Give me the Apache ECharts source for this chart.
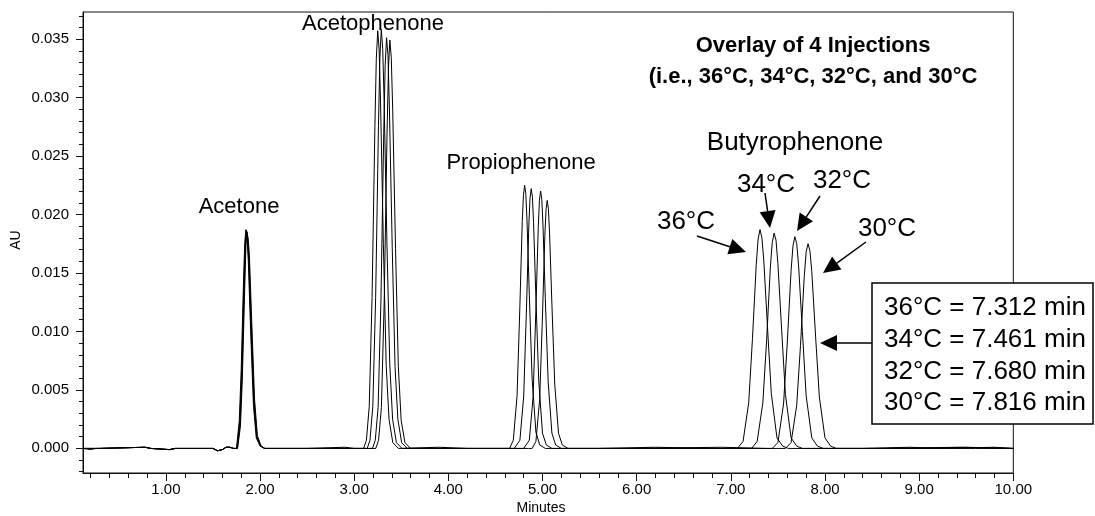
<!DOCTYPE html>
<html>
<head>
<meta charset="utf-8">
<script src="https://cdn.jsdelivr.net/npm/echarts@6/dist/echarts.min.js"></script>
<style>
  html, body { margin: 0; padding: 0; background: #fff; }
  #chart { width: 1095px; height: 516px; }
</style>
</head>
<body>
<div id="chart"></div>
<script>
// retention time (min) and absorbance (AU) for each injection temperature
const time36 = [0.12, 0.20, 0.26, 0.78, 0.84, 1.04, 1.10, 1.50, 1.55, 1.57, 1.60, 1.64, 1.68, 1.72,
  1.75, 1.78, 1.80, 1.825, 1.838, 1.85, 1.862, 1.875, 1.90, 1.93, 1.96, 2.00, 2.05,
  2.50, 2.90, 3.00,
  3.10, 3.13, 3.16, 3.19, 3.22, 3.235, 3.25, 3.265, 3.28, 3.31, 3.34, 3.37, 3.41, 3.47,
  3.90, 4.20, 4.60,
  4.65, 4.69, 4.73, 4.76, 4.785, 4.7975, 4.81, 4.8225, 4.835, 4.86, 4.89, 4.93, 4.97, 5.03,
  5.60, 6.20, 6.80, 7.00,
  7.07, 7.13, 7.19, 7.23, 7.27, 7.29, 7.31, 7.33, 7.35, 7.39, 7.43, 7.49, 7.55, 7.61,
  8.40, 8.90, 9.20, 9.80, 10.00]
const au36 = [0, -0.0001, 0, 0.0001, 0, -0.0001, 0, 0, -0.0002, -0.0003, -0.0001, 0.0001, 0.0001, 0,
  0, 0.0024, 0.0067, 0.0144, 0.0176, 0.0187, 0.0180, 0.0161, 0.0101, 0.0037, 0.0009, 0.0002, 0,
  0, 0.0001, 0,
  0, 0.0007, 0.0036, 0.0129, 0.0275, 0.0333, 0.0357, 0.0341, 0.0296, 0.0175, 0.0071, 0.0025, 0.0005, 0,
  0.0001, 0, 0,
  0, 0.0007, 0.0045, 0.0122, 0.0194, 0.0216, 0.0225, 0.0218, 0.0196, 0.0131, 0.0059, 0.0014, 0.0003, 0,
  0, 0.0001, 0, 0,
  0, 0.0006, 0.0039, 0.0094, 0.0157, 0.0179, 0.0187, 0.0180, 0.0161, 0.0103, 0.0047, 0.0009, 0.0002, 0,
  0, 0.0001, 0, 0.0001, 0]

const time34 = [0.12, 0.30, 0.78, 0.84, 1.04, 1.10, 1.50, 1.55, 1.57, 1.60, 1.64, 1.68, 1.72,
  1.754, 1.784, 1.804, 1.829, 1.842, 1.854, 1.866, 1.879, 1.904, 1.934, 1.964, 2.004, 2.05,
  2.50, 3.00,
  3.138, 3.168, 3.198, 3.228, 3.258, 3.273, 3.288, 3.303, 3.318, 3.348, 3.378, 3.408, 3.448, 3.508,
  4.20, 4.70,
  4.72, 4.76, 4.80, 4.83, 4.855, 4.8675, 4.88, 4.8925, 4.905, 4.93, 4.96, 5.00, 5.04, 5.10,
  5.80, 6.60, 7.15,
  7.22, 7.28, 7.34, 7.38, 7.42, 7.44, 7.46, 7.48, 7.50, 7.54, 7.58, 7.64, 7.70, 7.76,
  8.60, 9.40, 10.00]
const au34 = [0, 0, 0.0001, 0, -0.0001, 0, 0, -0.0002, -0.0003, -0.0001, 0.0001, 0.0001, 0,
  0, 0.0022, 0.0064, 0.0141, 0.0175, 0.0186, 0.0180, 0.0163, 0.0104, 0.0039, 0.0010, 0.0002, 0,
  0, 0,
  0, 0.0007, 0.0036, 0.0129, 0.0276, 0.0334, 0.0358, 0.0342, 0.0297, 0.0175, 0.0072, 0.0025, 0.0005, 0,
  0, 0,
  0, 0.0007, 0.0044, 0.0120, 0.0191, 0.0214, 0.0222, 0.0215, 0.0193, 0.0129, 0.0058, 0.0013, 0.0003, 0,
  0, 0, 0,
  0, 0.0006, 0.0039, 0.0092, 0.0155, 0.0176, 0.0184, 0.0178, 0.0158, 0.0101, 0.0046, 0.0009, 0.0002, 0,
  0, 0.0001, 0]

const time32 = [0.12, 0.30, 0.78, 0.84, 1.04, 1.10, 1.50, 1.55, 1.57, 1.60, 1.64, 1.68, 1.72,
  1.758, 1.788, 1.808, 1.833, 1.846, 1.858, 1.870, 1.883, 1.908, 1.938, 1.968, 2.008, 2.05,
  2.60, 3.10,
  3.194, 3.224, 3.254, 3.284, 3.314, 3.329, 3.344, 3.359, 3.374, 3.404, 3.434, 3.464, 3.504, 3.564,
  4.30, 4.80,
  4.82, 4.86, 4.90, 4.93, 4.955, 4.9675, 4.98, 4.9925, 5.005, 5.03, 5.06, 5.10, 5.14, 5.20,
  6.00, 6.90, 7.38,
  7.44, 7.50, 7.56, 7.60, 7.64, 7.66, 7.68, 7.70, 7.72, 7.76, 7.80, 7.86, 7.92, 7.98,
  8.80, 9.60, 10.00]
const au32 = [0, 0, 0.0001, 0, -0.0001, 0, 0, -0.0002, -0.0003, -0.0001, 0.0001, 0.0001, 0,
  0, 0.0020, 0.0061, 0.0138, 0.0174, 0.0186, 0.0180, 0.0164, 0.0106, 0.0041, 0.0010, 0.0002, 0,
  0, 0,
  0, 0.0007, 0.0035, 0.0126, 0.0270, 0.0327, 0.0351, 0.0336, 0.0291, 0.0172, 0.0070, 0.0025, 0.0005, 0,
  0, 0,
  0, 0.0007, 0.0044, 0.0119, 0.0189, 0.0212, 0.0220, 0.0213, 0.0191, 0.0128, 0.0057, 0.0013, 0.0003, 0,
  0, 0.0001, 0,
  0, 0.0005, 0.0038, 0.0091, 0.0152, 0.0173, 0.0181, 0.0175, 0.0156, 0.0100, 0.0045, 0.0009, 0.0002, 0,
  0, 0, 0]

const time30 = [0.12, 0.30, 0.78, 0.84, 1.04, 1.10, 1.50, 1.55, 1.57, 1.60, 1.64, 1.68, 1.72,
  1.762, 1.792, 1.812, 1.837, 1.850, 1.862, 1.874, 1.887, 1.912, 1.942, 1.972, 2.012, 2.05,
  2.70, 3.15,
  3.229, 3.259, 3.289, 3.319, 3.349, 3.364, 3.379, 3.394, 3.409, 3.439, 3.469, 3.499, 3.539, 3.599,
  4.40, 4.85,
  4.89, 4.93, 4.97, 5.00, 5.025, 5.0375, 5.05, 5.0625, 5.075, 5.10, 5.13, 5.17, 5.21, 5.27,
  6.10, 7.00, 7.50,
  7.58, 7.64, 7.70, 7.74, 7.78, 7.80, 7.82, 7.84, 7.86, 7.90, 7.94, 8.00, 8.06, 8.12,
  8.90, 9.50, 10.00]
const au30 = [0, 0, 0.0001, 0, -0.0001, 0, 0, -0.0002, -0.0003, -0.0001, 0.0001, 0.0001, 0,
  0, 0.0019, 0.0059, 0.0136, 0.0173, 0.0185, 0.0179, 0.0165, 0.0108, 0.0042, 0.0011, 0.0002, 0,
  0, 0,
  0, 0.0007, 0.0035, 0.0126, 0.0269, 0.0325, 0.0349, 0.0334, 0.0290, 0.0171, 0.0070, 0.0024, 0.0005, 0,
  0, 0,
  0, 0.0006, 0.0042, 0.0114, 0.0182, 0.0204, 0.0212, 0.0205, 0.0184, 0.0123, 0.0055, 0.0013, 0.0003, 0,
  0, 0, 0,
  0, 0.0005, 0.0037, 0.0088, 0.0147, 0.0168, 0.0175, 0.0169, 0.0151, 0.0096, 0.0044, 0.0009, 0.0002, 0,
  0, 0.0001, 0]

const traceNames = ['36°C', '34°C', '32°C', '30°C']
const boxLines = ['36°C = 7.312 min', '34°C = 7.461 min', '32°C = 7.680 min', '30°C = 7.816 min']

const FONT = '"Liberation Sans", Arial, sans-serif'

function zip(t, v) {
  return t.map((x, i) => [x, v[i]])
}

// arrow = line + filled triangle head, tip at (x2, y2)
function arrow(x1, y1, x2, y2) {
  const len = 17
  const half = 8
  const dx = x2 - x1
  const dy = y2 - y1
  const d = Math.sqrt(dx * dx + dy * dy)
  const ux = dx / d
  const uy = dy / d
  const bx = x2 - ux * len
  const by = y2 - uy * len
  return [
    { type: 'line', z: 50, shape: { x1: x1, y1: y1, x2: bx, y2: by }, style: { stroke: '#000', lineWidth: 1.5 } },
    { type: 'polygon', z: 50, shape: { points: [[x2, y2], [bx - uy * half, by + ux * half], [bx + uy * half, by - ux * half]] }, style: { fill: '#000' } }
  ]
}

function label(text, x, y, size, bold, align) {
  return {
    type: 'text',
    z: 60,
    style: {
      text: text,
      x: x,
      y: y,
      textAlign: align || 'center',
      textVerticalAlign: 'middle',
      font: (bold ? 'bold ' : '') + size + 'px ' + FONT,
      fill: '#000'
    }
  }
}

const chart = echarts.init(document.getElementById('chart'))

const series = [zip(time36, au36), zip(time34, au34), zip(time32, au32), zip(time30, au30)].map((d, i) => ({
  name: traceNames[i],
  type: 'line',
  xAxisIndex: 0,
  yAxisIndex: 0,
  showSymbol: false,
  symbol: 'none',
  clip: true,
  lineStyle: { color: '#000', width: 1 },
  data: d
}))

const graphics = [
  label('Acetone', 239, 207, 22),
  label('Acetophenone', 373, 24, 22),
  label('Propiophenone', 521, 163, 22),
  label('Butyrophenone', 795, 143, 26),
  label('36°C', 686, 222, 26),
  label('34°C', 766, 185, 26),
  label('32°C', 842, 181, 26),
  label('30°C', 887, 229, 26),
  label('Overlay of 4 Injections', 813, 46, 22, true),
  label('(i.e., 36°C, 34°C, 32°C, and 30°C', 813, 77, 22, true),
  label('Minutes', 541, 508, 14),
  {
    type: 'text',
    z: 60,
    rotation: Math.PI / 2,
    x: 16,
    y: 240,
    style: { text: 'AU', x: 0, y: 0, textAlign: 'center', textVerticalAlign: 'middle', font: '14px ' + FONT, fill: '#000' }
  },
  {
    type: 'rect',
    z: 40,
    shape: { x: 872, y: 283, width: 221, height: 141 },
    style: { fill: '#fff', stroke: '#000', lineWidth: 1.5 }
  }
]
  .concat(boxLines.map((t, i) => label(t, 884, 308 + i * 31.7, 26, false, 'left')))
  .concat(arrow(697, 236, 746, 252))
  .concat(arrow(765, 193, 770, 228))
  .concat(arrow(820, 196, 797, 231))
  .concat(arrow(866, 242, 823, 273))
  .concat(arrow(872, 343, 820, 343))

const hidden = { show: false }

const option = {
  animation: false,
  backgroundColor: '#fff',
  textStyle: { fontFamily: FONT },
  grid: [
    // plot frame and data
    { left: 83, right: 81.7, top: 12, bottom: 43, show: true, borderColor: '#111', borderWidth: 1 },
    // minor ticks: x 0.2..10, y -0.002..0.037
    { left: 90.6, right: 81.7, top: 15.8, bottom: 44.3 },
    // major ticks: x 1..10, y 0..0.035
    { left: 165.9, right: 81.7, top: 39.3, bottom: 67.7 }
  ],
  xAxis: [
    {
      gridIndex: 0, type: 'value', min: 0.12, max: 10,
      axisLine: { show: true, onZero: false, lineStyle: { color: '#111', width: 1 } },
      axisTick: hidden, axisLabel: hidden, splitLine: hidden
    },
    {
      gridIndex: 1, type: 'value', min: 0.2, max: 10, interval: 0.2, offset: 1.3,
      axisLine: { show: false, onZero: false }, axisLabel: hidden, splitLine: hidden,
      axisTick: { show: true, length: 5, lineStyle: { color: '#111' } }
    },
    {
      gridIndex: 2, type: 'value', min: 1, max: 10, interval: 1, offset: 24.7,
      axisLine: { show: false, onZero: false }, splitLine: hidden,
      axisTick: { show: true, length: 8, lineStyle: { color: '#111' } },
      axisLabel: { show: true, margin: 9, fontSize: 15, color: '#000', fontFamily: FONT, formatter: v => v.toFixed(2) }
    }
  ],
  yAxis: [
    {
      gridIndex: 0, type: 'value', min: -0.0021, max: 0.0373,
      axisLine: { show: true, onZero: false, lineStyle: { color: '#111', width: 1 } },
      axisTick: hidden, axisLabel: hidden, splitLine: hidden
    },
    {
      gridIndex: 1, type: 'value', min: -0.002, max: 0.037, interval: 0.001, offset: 7.6,
      axisLine: { show: false, onZero: false }, axisLabel: hidden, splitLine: hidden,
      axisTick: { show: true, length: 4, lineStyle: { color: '#111' } }
    },
    {
      gridIndex: 2, type: 'value', min: 0, max: 0.035, interval: 0.005, offset: 82.9,
      axisLine: { show: false, onZero: false }, splitLine: hidden,
      axisTick: { show: true, length: 7, lineStyle: { color: '#111' } },
      axisLabel: { show: true, margin: 14, fontSize: 15, color: '#000', fontFamily: FONT, formatter: v => v.toFixed(3) }
    }
  ],
  graphic: graphics,
  series: series
}

chart.setOption(option)
</script>
</body>
</html>
